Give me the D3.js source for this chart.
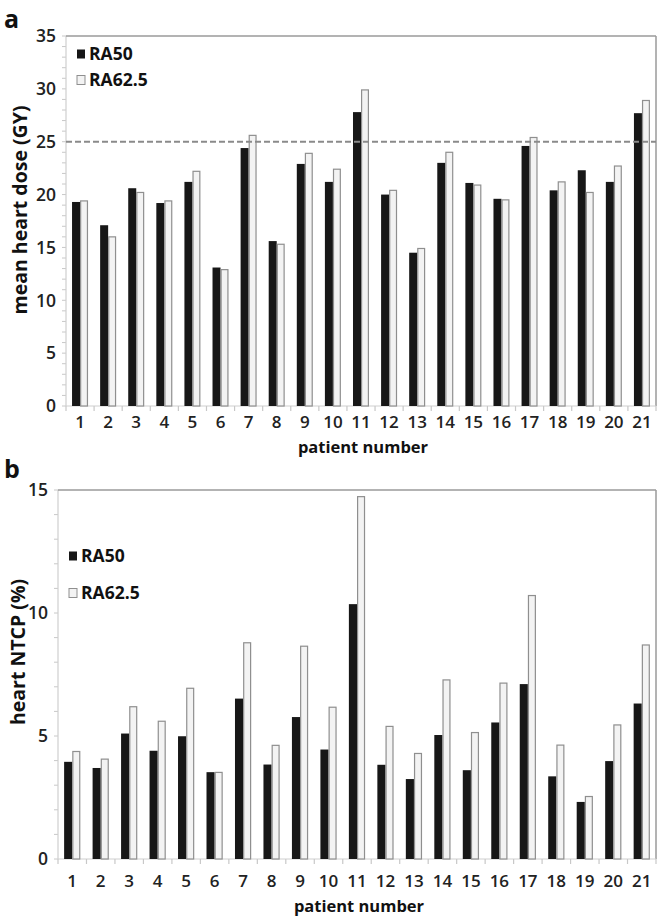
<!DOCTYPE html>
<html><head><meta charset="utf-8">
<script src="https://cdn.jsdelivr.net/npm/d3@7"></script>
<style>
html,body{margin:0;padding:0;background:#fff;}
svg{display:block;font-family:"Open Sans",sans-serif;}
</style></head>
<body><svg id="c" width="660" height="918"></svg>
<script>
const patients = ["1","2","3","4","5","6","7","8","9","10","11","12","13","14","15","16","17","18","19","20","21"];
const seriesNames = ["RA50","RA62.5"];
const doseRA50  = [19.3,17.1,20.6,19.2,21.2,13.1,24.4,15.6,22.9,21.2,27.8,20.0,14.5,23.0,21.1,19.6,24.6,20.4,22.3,21.2,27.7];
const doseRA625 = [19.4,16.0,20.2,19.4,22.2,12.9,25.6,15.3,23.9,22.4,29.9,20.4,14.9,24.0,20.9,19.5,25.4,21.2,20.2,22.7,28.9];
const ntcpRA50  = [3.95,3.70,5.10,4.40,4.99,3.53,6.52,3.84,5.77,4.45,10.36,3.83,3.25,5.04,3.61,5.55,7.11,3.36,2.32,3.98,6.32];
const ntcpRA625 = [4.37,4.06,6.19,5.60,6.94,3.52,8.79,4.62,8.65,6.17,14.73,5.39,4.29,7.28,5.14,7.15,10.71,4.63,2.54,5.45,8.70];
const doseTicks = [0,5,10,15,20,25,30,35];
const ntcpTicks = [0,5,10,15];
const doseThreshold = 25;

const svg = d3.select("#c");
const fills = ["#171717","#f3f3f3"];

function panel(opt){
  const {x0,x1,yTop,yBot,max,ticks,s1,s2,letter,letterY,ylabel,ylabelX,ylabelY,legendX,legendY,legendGap,threshold,tickLabelY,titleY} = opt;
  const g = svg.append("g");
  const x = d3.scaleBand().domain(patients).range([x0,x1]).paddingInner(0).paddingOuter(0);
  const y = d3.scaleLinear().domain([0,max]).range([yBot,yTop]);
  const bw = x.bandwidth();
  const barW = bw*0.285;
  const minor = d3.range(0,max+0.001,1);
  g.append("g").selectAll("line").data(minor).join("line")
    .attr("x1",x0-4).attr("x2",x0).attr("y1",d=>y(d)).attr("y2",d=>y(d))
    .attr("stroke","#c8c8c8").attr("stroke-width",1);
  g.append("line").attr("x1",x0).attr("x2",x0).attr("y1",yTop).attr("y2",yBot).attr("stroke","#cfcfcf").attr("stroke-width",1.2);
  g.append("line").attr("x1",x0).attr("x2",x1).attr("y1",yTop).attr("y2",yTop).attr("stroke","#9a9a9a").attr("stroke-width",1.5);
  g.append("line").attr("x1",x1).attr("x2",x1).attr("y1",yTop).attr("y2",yBot).attr("stroke","#9a9a9a").attr("stroke-width",1.5);
  g.append("g").selectAll("text").data(ticks).join("text")
    .attr("x",x0-10).attr("y",d=>y(d)).attr("dy","0.36em").attr("text-anchor","end")
    .attr("font-size",17.5).attr("font-weight",600).attr("fill","#222").text(d=>d);
  g.append("line").attr("x1",x0).attr("x2",x1).attr("y1",yBot).attr("y2",yBot).attr("stroke","#cfcfcf").attr("stroke-width",1.2);
  const bounds = patients.map(p=>x(p)).concat([x1]);
  g.append("g").selectAll("line").data(bounds).join("line")
    .attr("x1",d=>d).attr("x2",d=>d).attr("y1",yBot).attr("y2",yBot+5)
    .attr("stroke","#c8c8c8").attr("stroke-width",1.2);
  g.append("g").selectAll("text").data(patients).join("text")
    .attr("x",d=>x(d)+bw/2).attr("y",tickLabelY).attr("dy","0.36em").attr("text-anchor","middle")
    .attr("font-size",17).attr("font-weight",600).attr("fill","#222").text(d=>d);
  const c = d=>x(d)+bw/2;
  g.append("g").selectAll("rect").data(patients).join("rect")
    .attr("x",d=>c(d)-barW).attr("width",barW)
    .attr("y",(d,i)=>y(s1[i])).attr("height",(d,i)=>yBot-y(s1[i]))
    .attr("fill",fills[0]);
  g.append("g").selectAll("rect").data(patients).join("rect")
    .attr("x",d=>c(d)+0.6).attr("width",barW-1.2)
    .attr("y",(d,i)=>y(s2[i])).attr("height",(d,i)=>yBot-y(s2[i]))
    .attr("fill",fills[1]).attr("stroke","#8f8f8f").attr("stroke-width",1.2);
  if(threshold!==undefined){
    g.append("line").attr("x1",x0).attr("x2",x1).attr("y1",y(threshold)).attr("y2",y(threshold))
      .attr("stroke","#8a8a8a").attr("stroke-width",2).attr("stroke-dasharray","6,3");
  }
  seriesNames.forEach((nm,i)=>{
    const ly = legendY + i*legendGap;
    g.append("rect").attr("x",legendX).attr("y",ly-4.5).attr("width",8).attr("height",9)
      .attr("fill",fills[i]).attr("stroke",i? "#8f8f8f":"none").attr("stroke-width",1);
    g.append("text").attr("x",legendX+12).attr("y",ly).attr("dy","0.36em")
      .attr("font-size",17.5).attr("font-weight",700).attr("fill","#111").text(nm);
  });
  g.append("text").attr("x",(x0+x1)/2+2).attr("y",titleY).attr("dy","0.36em").attr("text-anchor","middle")
    .attr("font-size",16.5).attr("font-weight",700).attr("fill","#111").text("patient number");
  g.append("text").attr("transform",`translate(${ylabelX},${ylabelY}) rotate(-90)`)
    .attr("text-anchor","middle").attr("dy","0.36em")
    .attr("font-size",19.5).attr("font-weight",700).attr("fill","#111").text(ylabel);
  g.append("text").attr("x",4).attr("y",letterY).attr("font-size",25).attr("font-weight",700).attr("fill","#111").text(letter);
}

panel({x0:66,x1:656,yTop:36,yBot:406,max:35,ticks:doseTicks,s1:doseRA50,s2:doseRA625,
  letter:"a",letterY:28,ylabel:"mean heart dose (GY)",ylabelX:20,ylabelY:210,legendX:77,legendY:54,legendGap:26,
  threshold:doseThreshold,tickLabelY:422,titleY:447});
panel({x0:58,x1:656,yTop:490,yBot:859,max:15,ticks:ntcpTicks,s1:ntcpRA50,s2:ntcpRA625,
  letter:"b",letterY:478,ylabel:"heart NTCP (%)",ylabelX:18,ylabelY:652,legendX:69,legendY:556,legendGap:37,
  tickLabelY:881,titleY:906});
</script></body></html>
